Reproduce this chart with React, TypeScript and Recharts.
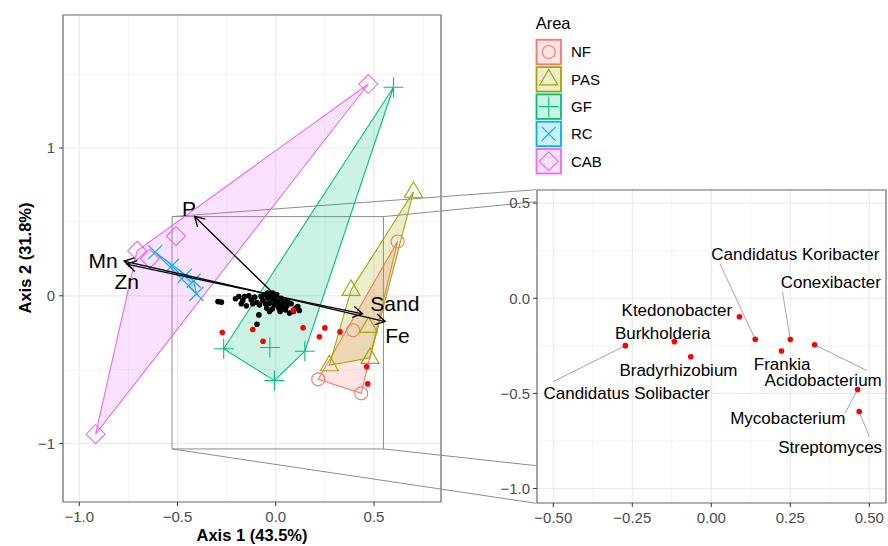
import React from 'react';
import { ScatterChart, Scatter, XAxis, YAxis, CartesianGrid, ReferenceLine, ReferenceArea } from 'recharts';

const FONT = '"Liberation Sans", Arial, Helvetica, sans-serif';

// sample groups
const areas = ['NF', 'PAS', 'GF', 'RC', 'CAB'];
const areaColors = ['#F8766D', '#A3A500', '#00BF7D', '#00B0F6', '#E76BF3'];
const areaShapes = ['circle', 'triangle', 'plus', 'cross', 'diamond'];

const nfSites = [
    { x: 0.62, y: 0.368 },
    { x: 0.394, y: -0.233 },
    { x: 0.216, y: -0.565 },
    { x: 0.435, y: -0.66 },
];
const pasSites = [
    { x: 0.701, y: 0.704 },
    { x: 0.383, y: 0.04 },
    { x: 0.472, y: -0.21 },
    { x: 0.48, y: -0.42 },
    { x: 0.273, y: -0.47 },
];
const gfSites = [
    { x: 0.599, y: 1.411 },
    { x: -0.265, y: -0.358 },
    { x: -0.007, y: -0.574 },
    { x: 0.148, y: -0.375 },
    { x: -0.03, y: -0.35 },
];
const rcSites = [
    { x: -0.614, y: 0.295 },
    { x: -0.529, y: 0.203 },
    { x: -0.463, y: 0.135 },
    { x: -0.418, y: 0.102 },
    { x: -0.404, y: 0.014 },
];
const cabSites = [
    { x: 0.471, y: 1.433 },
    { x: -0.917, y: -0.936 },
    { x: -0.706, y: 0.305 },
    { x: -0.641, y: 0.251 },
    { x: -0.508, y: 0.404 },
];
const siteGroups = [nfSites, pasSites, gfSites, rcSites, cabSites];

// environmental vectors
const envNames = ['P', 'Mn', 'Zn', 'Sand', 'Fe'];
const envTips = [
    { x: -0.413, y: 0.537 },
    { x: -0.772, y: 0.235 },
    { x: -0.759, y: 0.215 },
    { x: 0.442, y: -0.122 },
    { x: 0.557, y: -0.174 },
];
const envLabelPos = [
    { x: -0.442, y: 0.594 },
    { x: -0.879, y: 0.237 },
    { x: -0.759, y: 0.097 },
    { x: 0.606, y: -0.049 },
    { x: 0.619, y: -0.266 },
];

// unlabelled genera
const otherGenera = [
    { x: -0.294, y: -0.039 }, { x: -0.277, y: -0.043 }, { x: -0.205, y: -0.02 }, { x: -0.188, y: -0.005 },
    { x: -0.168, y: -0.032 }, { x: -0.15, y: -0.068 }, { x: -0.176, y: -0.054 }, { x: -0.137, y: 0.0 },
    { x: -0.125, y: -0.027 }, { x: -0.108, y: -0.009 }, { x: -0.096, y: -0.045 }, { x: -0.086, y: -0.129 },
    { x: -0.096, y: -0.192 }, { x: -0.074, y: -0.005 }, { x: -0.066, y: -0.032 }, { x: -0.052, y: -0.054 },
    { x: -0.041, y: -0.016 }, { x: -0.028, y: 0.007 }, { x: -0.018, y: -0.09 }, { x: -0.012, y: -0.027 },
    { x: -0.001, y: -0.005 }, { x: 0.01, y: -0.039 }, { x: 0.019, y: -0.061 }, { x: 0.027, y: -0.016 },
    { x: 0.036, y: -0.083 }, { x: 0.044, y: -0.039 }, { x: 0.056, y: -0.068 }, { x: 0.07, y: -0.117 },
    { x: 0.078, y: -0.054 }, { x: 0.103, y: -0.083 }, { x: 0.12, y: -0.099 }, { x: -0.057, y: 0.007 },
    { x: -0.046, y: -0.083 }, { x: -0.032, y: -0.05 }, { x: -0.022, y: -0.016 }, { x: -0.007, y: -0.061 },
    { x: 0.005, y: 0.007 }, { x: 0.015, y: -0.083 }, { x: 0.032, y: -0.05 }, { x: 0.049, y: -0.095 },
    { x: 0.061, y: -0.039 }, { x: 0.09, y: -0.106 }, { x: 0.112, y: -0.072 }, { x: -0.083, y: -0.061 },
    { x: -0.117, y: -0.054 }, { x: -0.159, y: -0.005 }, { x: -0.032, y: -0.106 }, { x: 0.022, y: -0.106 },
    { x: -0.015, y: 0.018 }, { x: -0.041, y: 0.018 },
];

// labelled genera
const genusNames = [
    'Candidatus Solibacter', 'Burkholderia', 'Bradyrhizobium', 'Ktedonobacter', 'Candidatus Koribacter',
    'Frankia', 'Conexibacter', 'Acidobacterium', 'Mycobacterium', 'Streptomyces',
];
const genusX = [-0.272, -0.117, -0.065, 0.089, 0.139, 0.222, 0.25, 0.327, 0.463, 0.468];
const genusY = [-0.249, -0.228, -0.307, -0.097, -0.216, -0.277, -0.217, -0.244, -0.48, -0.596];
const labelX = [-0.268, -0.154, -0.104, -0.109, 0.266, 0.224, 0.378, 0.354, 0.242, 0.376];
const labelY = [-0.496, -0.181, -0.377, -0.061, 0.233, -0.347, 0.087, -0.429, -0.627, -0.78];
const leaderX = [-0.5, null, null, null, 0.0275, null, 0.225, 0.492, 0.423, 0.5];
const leaderY = [-0.438, null, null, null, 0.18, null, 0.035, -0.38, -0.604, -0.727];

// axes
const leftXDomain = [-1.083, 0.841];
const leftYDomain = [-1.395, 1.9];
const leftXTicks = [-1, -0.5, 0, 0.5];
const leftYTicks = [-1, 0, 1];
const leftXMinor = [-0.75, -0.25, 0.25, 0.75];
const leftYMinor = [-0.5, 0.5, 1.5];

const rightXDomain = [-0.5516, 0.5528];
const rightYDomain = [-1.076, 0.569];
const rightXTicks = [-0.5, -0.25, 0, 0.25, 0.5];
const rightYTicks = [-1, -0.5, 0, 0.5];
const rightXMinor = [-0.375, -0.125, 0.125, 0.375];
const rightYMinor = [-0.75, -0.25, 0.25];

// zoom window and its connectors (left panel coordinates)
const zoomBox = { x1: -0.528, x2: 0.548, y1: -1.036, y2: 0.536 };
const connectors = [
    [{ x: -0.528, y: 0.536 }, { x: 1.3234, y: 0.7177 }],
    [{ x: 0.548, y: 0.536 }, { x: 1.3234, y: 0.6364 }],
    [{ x: 0.548, y: -1.036 }, { x: 1.3234, y: -1.149 }],
    [{ x: -0.528, y: -1.036 }, { x: 1.3234, y: -1.4035 }],
];

const genera = genusNames.map((name, i) => ({ x: genusX[i], y: genusY[i], name }));

function fmt(v: number, d: number) {
    const s = Math.abs(v).toFixed(d);
    return v < 0 ? '\u2212' + s : s;
}

function convexHull(pts: { x: number; y: number }[]) {
    const p = [...pts].sort((a, b) => a.x - b.x || a.y - b.y);
    const cross = (o: any, a: any, b: any) => (a.x - o.x) * (b.y - o.y) - (a.y - o.y) * (b.x - o.x);
    const lower: any[] = [];
    for (const q of p) {
        while (lower.length >= 2 && cross(lower[lower.length - 2], lower[lower.length - 1], q) <= 0) lower.pop();
        lower.push(q);
    }
    const upper: any[] = [];
    for (let i = p.length - 1; i >= 0; i--) {
        const q = p[i];
        while (upper.length >= 2 && cross(upper[upper.length - 2], upper[upper.length - 1], q) <= 0) upper.pop();
        upper.push(q);
    }
    upper.pop();
    lower.pop();
    return lower.concat(upper);
}

function Glyph({ kind, cx, cy, color, sw = 1.1 }: any) {
    const common = { fill: 'none', stroke: color, strokeWidth: sw };
    switch (kind) {
        case 'circle':
            return <circle cx={cx} cy={cy} r={6.5} {...common} />;
        case 'triangle':
            return <polygon points={`${cx},${cy - 10} ${cx - 9},${cy + 5.5} ${cx + 9},${cy + 5.5}`} {...common} />;
        case 'plus':
            return <path d={`M${cx - 10},${cy}H${cx + 10}M${cx},${cy - 10}V${cy + 10}`} {...common} />;
        case 'cross':
            return <path d={`M${cx - 7},${cy - 7}L${cx + 7},${cy + 7}M${cx - 7},${cy + 7}L${cx + 7},${cy - 7}`} {...common} />;
        default:
            return <polygon points={`${cx},${cy - 9.5} ${cx + 9.5},${cy} ${cx},${cy + 9.5} ${cx - 9.5},${cy}`} {...common} />;
    }
}

const Empty = () => <g />;

const hullLine = (color: string) => (p: any) => (
    <path
        d={'M' + p.points.map((q: any) => `${q.x},${q.y}`).join('L') + 'Z'}
        fill={color}
        fillOpacity={0.2}
        stroke={color}
        strokeWidth={1.1}
    />
);

const arrowLine = (p: any) => {
    const [a, b] = p.points;
    const ang = Math.atan2(b.y - a.y, b.x - a.x);
    const L = 11;
    const w = Math.PI / 6;
    const h1 = { x: b.x - L * Math.cos(ang - w), y: b.y - L * Math.sin(ang - w) };
    const h2 = { x: b.x - L * Math.cos(ang + w), y: b.y - L * Math.sin(ang + w) };
    return (
        <path
            d={`M${a.x},${a.y}L${b.x},${b.y}M${h1.x},${h1.y}L${b.x},${b.y}L${h2.x},${h2.y}`}
            stroke="#000"
            strokeWidth={1.3}
            fill="none"
        />
    );
};

const tickStyle = { fill: '#4d4d4d', fontSize: 15, fontFamily: FONT };

function LeftPanel() {
    return (
        <ScatterChart width={888} height={546} margin={{ top: 15, right: 447, bottom: 0, left: 0 }}>
            <CartesianGrid stroke="#ebebeb" strokeWidth={0.6} verticalValues={leftXMinor} horizontalValues={leftYMinor} />
            <CartesianGrid stroke="#ebebeb" strokeWidth={1.2} verticalValues={leftXTicks} horizontalValues={leftYTicks} />
            <XAxis
                type="number"
                dataKey="x"
                domain={leftXDomain}
                ticks={leftXTicks}
                allowDataOverflow
                height={44}
                tickFormatter={(v) => fmt(v, 1)}
                tick={tickStyle}
                tickSize={4}
                tickMargin={5}
                tickLine={{ stroke: '#333' }}
                axisLine={false}
            />
            <YAxis
                type="number"
                dataKey="y"
                domain={leftYDomain}
                ticks={leftYTicks}
                allowDataOverflow
                width={63}
                tickFormatter={(v) => fmt(v, 0)}
                tick={tickStyle}
                tickSize={4}
                tickMargin={4}
                tickLine={{ stroke: '#333' }}
                axisLine={false}
            />
            {siteGroups.map((g, i) => (
                <Scatter
                    key={'hull' + i}
                    data={convexHull(g)}
                    line={hullLine(areaColors[i])}
                    shape={Empty}
                    isAnimationActive={false}
                />
            ))}
            {siteGroups.map((g, i) => (
                <Scatter
                    key={'site' + i}
                    data={g}
                    isAnimationActive={false}
                    shape={(p: any) => <Glyph kind={areaShapes[i]} cx={p.cx} cy={p.cy} color={areaColors[i]} />}
                />
            ))}
            <Scatter
                data={otherGenera}
                isAnimationActive={false}
                shape={(p: any) => <circle cx={p.cx} cy={p.cy} r={2.8} fill="#000" />}
            />
            <Scatter
                data={genera}
                isAnimationActive={false}
                shape={(p: any) => <circle cx={p.cx} cy={p.cy} r={2.8} fill="#ff0000" />}
            />
            {envTips.map((t, i) => (
                <Scatter
                    key={'env' + i}
                    data={[{ x: 0, y: 0 }, t]}
                    line={arrowLine}
                    shape={Empty}
                    isAnimationActive={false}
                />
            ))}
            <Scatter
                data={envLabelPos.map((p, i) => ({ ...p, name: envNames[i] }))}
                isAnimationActive={false}
                shape={(p: any) => (
                    <text x={p.cx} y={p.cy} dy="0.36em" textAnchor="middle" fontSize={21} fontFamily={FONT} fill="#000">
                        {p.payload.name}
                    </text>
                )}
            />
            <ReferenceArea
                x1={zoomBox.x1}
                x2={zoomBox.x2}
                y1={zoomBox.y1}
                y2={zoomBox.y2}
                fill="none"
                stroke="#8c8c8c"
                strokeWidth={1}
                ifOverflow="visible"
            />
            {connectors.map((s, i) => (
                <ReferenceLine key={'c' + i} segment={s} stroke="#8c8c8c" strokeWidth={1} ifOverflow="visible" />
            ))}
            <ReferenceArea
                x1={leftXDomain[0]}
                x2={leftXDomain[1]}
                y1={leftYDomain[0]}
                y2={leftYDomain[1]}
                fill="none"
                stroke="#666"
                strokeWidth={1.2}
                ifOverflow="visible"
            />
        </ScatterChart>
    );
}

function RightPanel() {
    return (
        <ScatterChart width={408} height={546} margin={{ top: 190, right: 2, bottom: 0, left: 0 }}>
            <CartesianGrid stroke="#ebebeb" strokeWidth={0.6} verticalValues={rightXMinor} horizontalValues={rightYMinor} />
            <CartesianGrid stroke="#ebebeb" strokeWidth={1.2} verticalValues={rightXTicks} horizontalValues={rightYTicks} />
            <XAxis
                type="number"
                dataKey="x"
                domain={rightXDomain}
                ticks={rightXTicks}
                allowDataOverflow
                height={43}
                tickFormatter={(v) => fmt(v, 2)}
                tick={tickStyle}
                tickSize={4}
                tickMargin={5}
                tickLine={{ stroke: '#333' }}
                axisLine={false}
            />
            <YAxis
                type="number"
                dataKey="y"
                domain={rightYDomain}
                ticks={rightYTicks}
                allowDataOverflow
                width={57}
                tickFormatter={(v) => fmt(v, 1)}
                tick={tickStyle}
                tickSize={4}
                tickMargin={3}
                tickLine={{ stroke: '#333' }}
                axisLine={false}
            />
            {genusNames.map((n, i) =>
                leaderX[i] === null ? null : (
                    <ReferenceLine
                        key={'ld' + i}
                        segment={[{ x: leaderX[i], y: leaderY[i] }, { x: genusX[i], y: genusY[i] }]}
                        stroke="#a6a6a6"
                        strokeWidth={1}
                    />
                )
            )}
            <Scatter
                data={genera}
                isAnimationActive={false}
                shape={(p: any) => <circle cx={p.cx} cy={p.cy} r={2.8} fill="#ff0000" />}
            />
            <Scatter
                data={genusNames.map((name, i) => ({ x: labelX[i], y: labelY[i], name }))}
                isAnimationActive={false}
                shape={(p: any) => (
                    <text x={p.cx} y={p.cy} dy="0.36em" textAnchor="middle" fontSize={17} fontFamily={FONT} fill="#000">
                        {p.payload.name}
                    </text>
                )}
            />
            <ReferenceArea
                x1={rightXDomain[0]}
                x2={rightXDomain[1]}
                y1={rightYDomain[0]}
                y2={rightYDomain[1]}
                fill="none"
                stroke="#666"
                strokeWidth={1.2}
                ifOverflow="visible"
            />
        </ScatterChart>
    );
}

function AreaLegend() {
    return (
        <svg width={140} height={180} style={{ position: 'absolute', left: 525, top: 5 }}>
            <text x={10.7} y={23.7} fontSize={16.5} fontFamily={FONT} fill="#000">
                Area
            </text>
            {areas.map((a, i) => {
                const y = 34.8 + i * 27.3;
                return (
                    <g key={a}>
                        <rect
                            x={11.5}
                            y={y}
                            width={24.5}
                            height={24.5}
                            fill={areaColors[i]}
                            fillOpacity={0.2}
                            stroke={areaColors[i]}
                            strokeWidth={1.8}
                        />
                        <Glyph kind={areaShapes[i]} cx={23.75} cy={y + 12.25} color={areaColors[i]} />
                        <text x={46} y={y + 12.25} dy="0.36em" fontSize={15} fontFamily={FONT} fill="#000">
                            {a}
                        </text>
                    </g>
                );
            })}
        </svg>
    );
}

export default function App() {
    return (
        <div style={{ position: 'absolute', left: 0, top: 0, width: 888, height: 546, background: '#fff', fontFamily: FONT }}>
            <div style={{ position: 'absolute', left: 0, top: 0 }}>
                <LeftPanel />
            </div>
            <div style={{ position: 'absolute', left: 480, top: 0 }}>
                <RightPanel />
            </div>
            <AreaLegend />
            <div
                style={{
                    position: 'absolute',
                    left: 252,
                    top: 535,
                    transform: 'translate(-50%, -50%)',
                    fontWeight: 'bold',
                    fontSize: 16.5,
                    whiteSpace: 'nowrap',
                    color: '#000',
                }}
            >
                Axis 1 (43.5%)
            </div>
            <div
                style={{
                    position: 'absolute',
                    left: 25,
                    top: 258,
                    transform: 'translate(-50%, -50%) rotate(-90deg)',
                    fontWeight: 'bold',
                    fontSize: 16.5,
                    whiteSpace: 'nowrap',
                    color: '#000',
                }}
            >
                Axis 2 (31.8%)
            </div>
        </div>
    );
}
